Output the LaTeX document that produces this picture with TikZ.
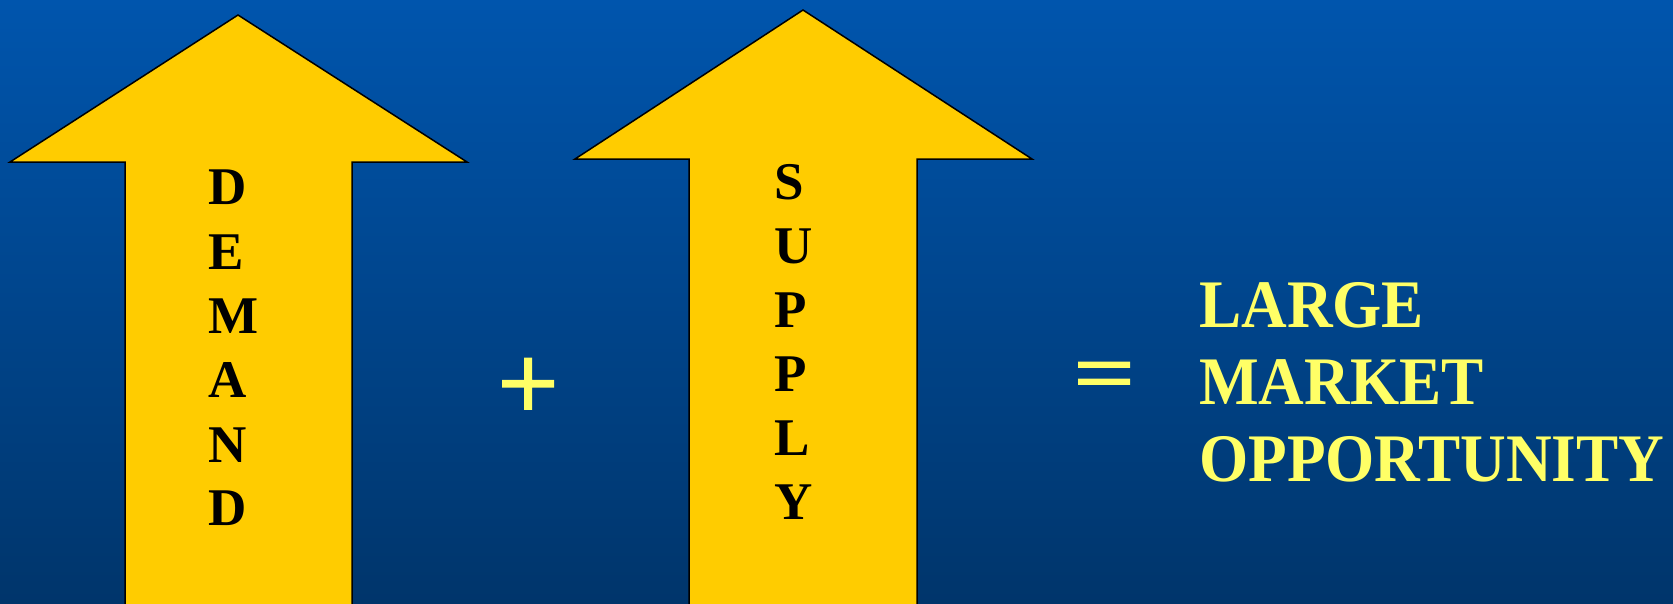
\documentclass[tikz,border=0pt]{standalone}
\usepackage{fontspec}
\setmainfont{Liberation Serif}
\newfontfamily\bigserif[FakeStretch=0.93]{Liberation Serif}
\newfontfamily\opfont[FakeBold=2.5]{Liberation Serif}
\definecolor{bgtop}{HTML}{0055AD}
\definecolor{bgbot}{HTML}{00356B}
\definecolor{arrowyellow}{HTML}{FFCC00}
\definecolor{textyellow}{HTML}{FFFF66}
\tikzset{
  bigarrow/.style={fill=arrowyellow, draw=black, line width=1.5pt, line join=miter},
  vletter/.style={anchor=base west, inner sep=0pt, text=black, font=\fontsize{53}{64}\selectfont\bfseries},
  resultline/.style={anchor=base west, inner sep=0pt, text=textyellow, font=\fontsize{68}{78}\bigserif\bfseries},
  opsign/.style={inner sep=0pt, text=textyellow, font=\fontsize{106}{110}\opfont}
}
\begin{document}
\begin{tikzpicture}[x=1pt,y=-1pt]
\useasboundingbox (0,0) rectangle (1673,603);
\shade[top color=bgtop, bottom color=bgbot] (0,0) rectangle (1673,603);
\begin{scope}
\clip (0,0) rectangle (1673,603);
% DEMAND arrow
\draw[bigarrow] (125,610) -- (125,162) -- (10,162) -- (238,15) -- (467,162) -- (352,162) -- (352,610);
% SUPPLY arrow
\draw[bigarrow] (689,610) -- (689,159) -- (575,159) -- (803,10) -- (1032,159) -- (917,159) -- (917,610);
\end{scope}
% DEMAND letters
\node[vletter] (d1) at (208,204) {D};
\node[vletter] (d2) at (208,269) {E};
\node[vletter] (d3) at (208,333) {M};
\node[vletter] (d4) at (208,397) {A};
\node[vletter] (d5) at (208,462) {N};
\node[vletter] (d6) at (208,525) {D};
% SUPPLY letters
\node[vletter] (s1) at (774,199) {S};
\node[vletter] (s2) at (774,263) {U};
\node[vletter] (s3) at (774,327) {P};
\node[vletter] (s4) at (774,391) {P};
\node[vletter] (s5) at (774,455) {L};
\node[vletter] (s6) at (774,519) {Y};
% operators
\node[opsign] (plus) at (528,389) {+};
\node[opsign, yscale=0.8] (eq) at (1104,382) {=};
% result
\node[resultline] (r1) at (1199,327) {LARGE};
\node[resultline] (r2) at (1199,404) {MARKET};
\node[resultline] (r3) at (1199,481) {OPPORTUNITY};
\end{tikzpicture}
\end{document}
